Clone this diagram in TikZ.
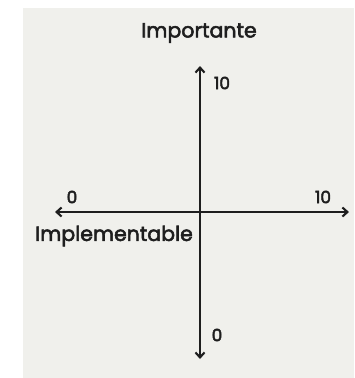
\documentclass[tikz,border=0pt]{standalone}
\usepackage{fontspec}
\setmainfont{Poppins}[FakeBold=2.6,AutoFakeBold=2.6]
\usepackage{xcolor}
\usetikzlibrary{arrows.meta,positioning}
\definecolor{paper}{HTML}{F0F0EC}
\definecolor{ink}{HTML}{1E1E1E}

\begin{document}
\begin{tikzpicture}[x=1pt,y=-1pt,
  axis/.style={draw=ink, line width=2.1pt, {Straight Barb[length=5pt,width=9pt]}-{Straight Barb[length=5pt,width=9pt]}},
  title/.style={font=\fontsize{20.5}{22}\selectfont\bfseries, text=ink, inner sep=0pt},
  tick/.style={font=\fontsize{17}{19}\selectfont\bfseries, text=ink, inner sep=0pt}]
% frame and backdrop
\useasboundingbox (0,0) rectangle (354,378);
\fill[paper] (23,8) rectangle (354,378);
% axis ends
\coordinate (top) at (200,66);
\coordinate (bottom) at (200,359);
\coordinate (left) at (55,212);
\coordinate (right) at (349,212);
\draw[axis] (bottom) -- (top);
\draw[axis] (left) -- (right);
% labels
\node[title] (imp) at (199,33) {Importante};
\node[title] (impl) at (114,236) {Implementable};
\node[tick] (ytop) at (222,83) {10};
\node[tick] (ybot) at (217,335) {0};
\node[tick] (xleft) at (72,197) {0};
\node[tick] (xright) at (323,197) {10};
\end{tikzpicture}
\end{document}
